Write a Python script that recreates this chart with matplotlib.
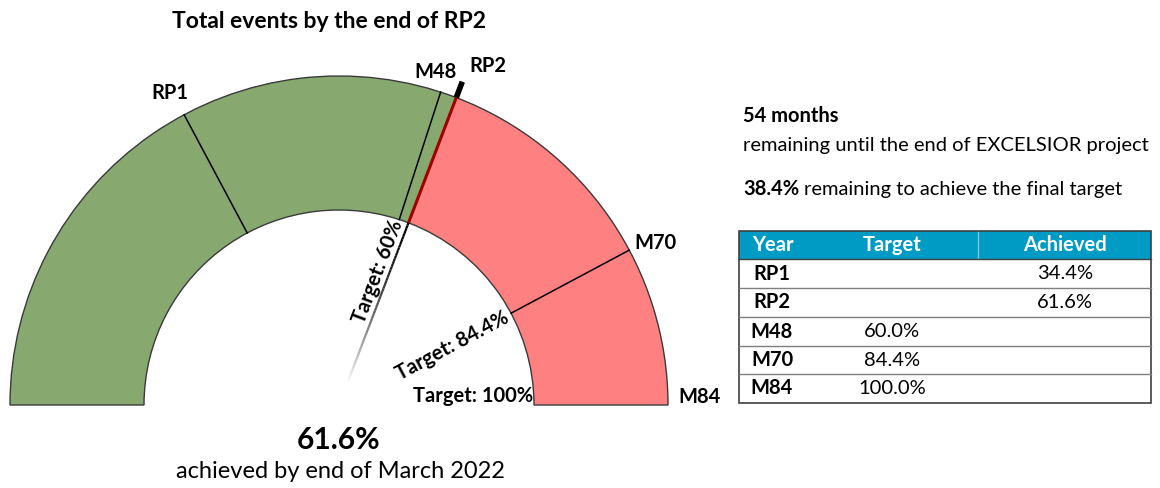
import numpy as np
import matplotlib
matplotlib.use("Agg")
import matplotlib.pyplot as plt
from matplotlib.patches import Wedge, Rectangle
from matplotlib.collections import LineCollection

# ---- data ----
milestones = ["RP1", "RP2", "M48", "M70", "M84"]
achieved_labels = ["RP1", "RP2"]
achieved_values = [34.4, 61.6]
target_labels = ["M48", "M70", "M84"]
target_values = [60.0, 84.4, 100.0]
current = 61.6
months_remaining = 54
title = "Total events by the end of RP2"
subtitle = "achieved by end of March 2022"

plt.rcParams['font.family'] = ['Lato', 'DejaVu Sans']

fig = plt.figure(figsize=(11.6, 4.88), dpi=100)
ax = fig.add_axes([0, 0, 1, 1])
ax.set_xlim(0, 1160)
ax.set_ylim(0, 488)
ax.axis('off')

cx, cy = 339, 83
R, W = 329, 134
r_in = R - W
GREEN = "#87A96F"
RED = "#FF8080"
EDGE = "#3A3A3A"
FS = 14.5


def ang(p):
    return 180 - p * 1.8


def pt(p, r):
    a = np.radians(ang(p))
    return cx + r * np.cos(a), cy + r * np.sin(a)


# band
ax.add_patch(Wedge((cx, cy), R, ang(current), 180, width=W, facecolor=GREEN,
                   edgecolor=EDGE, lw=1))
ax.add_patch(Wedge((cx, cy), R, 0, ang(current), width=W, facecolor=RED,
                   edgecolor=EDGE, lw=1))

# dividers
for p in [achieved_values[0], target_values[0], target_values[1]]:
    x0, y0 = pt(p, r_in)
    x1, y1 = pt(p, R)
    ax.plot([x0, x1], [y0, y1], color="black", lw=1.1)

# needle at current value
x0, y0 = pt(current, r_in)
x1, y1 = pt(current, R)
ax.plot([x0, x1], [y0, y1], color="#A00000", lw=2.2, solid_capstyle='butt')
x2, y2 = pt(current, R + 17)
ax.plot([x1, x2], [y1, y2], color="black", lw=4, solid_capstyle='butt')
# fading inner part
rs = np.linspace(r_in, 22, 60)
segs = []
cols = []
for i in range(len(rs) - 1):
    a = pt(current, rs[i])
    b = pt(current, rs[i + 1])
    segs.append([a, b])
    t = i / (len(rs) - 2)
    cols.append((0, 0, 0, max(0.0, 1 - t ** 1.6)))
ax.add_collection(LineCollection(segs, colors=cols, linewidths=1.6))

# outer labels
outer = [("RP1", 118.4, 355), ("M48", 73.8, 347), ("RP2", 66.3, 370),
         ("M70", 27.1, 355), ("M84", 1.3, 361)]
for name, a, r in outer:
    ax.text(cx + r * np.cos(np.radians(a)), cy + r * np.sin(np.radians(a)), name,
            ha='center', va='center', fontsize=FS, fontweight='bold')

# inner target labels
a60 = 73.5
ax.text(cx + 139 * np.cos(np.radians(a60)), cy + 139 * np.sin(np.radians(a60)),
        "Target: %g%%" % target_values[0], rotation=ang(current), ha='center',
        va='center', fontsize=FS, fontweight='bold', rotation_mode='anchor')
a84 = 27.5
ax.text(cx + 128 * np.cos(np.radians(a84)), cy + 128 * np.sin(np.radians(a84)),
        "Target: %g%%" % target_values[1], rotation=ang(target_values[1]),
        ha='center', va='center', fontsize=FS, fontweight='bold',
        rotation_mode='anchor')
ax.text(cx + r_in - 1, cy + 9, "Target: %g%%" % target_values[2],
        ha='right', va='center', fontsize=FS, fontweight='bold')

# title and center texts
ax.text(329, 488 - 22, title, ha='center', va='center', fontsize=16.5,
        fontweight='bold')
ax.text(339, 488 - 440, "%.1f%%" % current, ha='center', va='center',
        fontsize=21.5, fontweight='bold')
ax.text(340, 488 - 472, subtitle, ha='center', va='center', fontsize=17)

# right-hand text
ax.text(743, 488 - 116, "%d months" % months_remaining, ha='left', va='center',
        fontsize=FS, fontweight='bold')
ax.text(743, 488 - 146, "remaining until the end of EXCELSIOR project",
        ha='left', va='center', fontsize=FS)
rem = 100 - current
t1 = ax.text(743, 488 - 189, "%.1f%%" % rem, ha='left', va='center',
             fontsize=FS, fontweight='bold')
fig.canvas.draw()
bb = t1.get_window_extent()
ax.text(bb.x1 + 5, 488 - 189, "remaining to achieve the final target",
        ha='left', va='center', fontsize=FS)

# table
tx0, tx1 = 739, 1151
hy0, hy1 = 231, 259
row_edges = [259, 288, 317, 346, 374, 403]
HDR = "#009BC4"
ax.add_patch(Rectangle((tx0, 488 - hy1), tx1 - tx0, hy1 - hy0, facecolor=HDR,
                       edgecolor='none'))
ax.plot([978, 978], [488 - hy0 - 1, 488 - hy1 + 1], color="#7FC4DD", lw=1)
for txt, x in [("Year", 773), ("Target", 892), ("Achieved", 1065)]:
    ax.text(x, 488 - (hy0 + hy1) / 2, txt, ha='center', va='center', color='white',
            fontsize=FS, fontweight='bold')
for yy in row_edges[1:-1]:
    ax.plot([tx0, tx1], [488 - yy, 488 - yy], color="#7F7F7F", lw=1)
ax.add_patch(Rectangle((tx0, 488 - row_edges[-1]), tx1 - tx0,
                       row_edges[-1] - hy0, facecolor='none', edgecolor='#404040',
                       lw=1.2))
ax.plot([tx0, tx1], [488 - hy1, 488 - hy1], color='#404040', lw=1)

rows = []
for n, v in zip(achieved_labels, achieved_values):
    rows.append((n, "", "%.1f%%" % v))
for n, v in zip(target_labels, target_values):
    rows.append((n, "%.1f%%" % v, ""))
for i, (n, tv, av) in enumerate(rows):
    yc = 488 - (row_edges[i] + row_edges[i + 1]) / 2
    ax.text(772, yc, n, ha='center', va='center', fontsize=FS, fontweight='bold')
    if tv:
        ax.text(892, yc, tv, ha='center', va='center', fontsize=FS)
    if av:
        ax.text(1065, yc, av, ha='center', va='center', fontsize=FS)

fig.savefig("out.png", dpi=100)
